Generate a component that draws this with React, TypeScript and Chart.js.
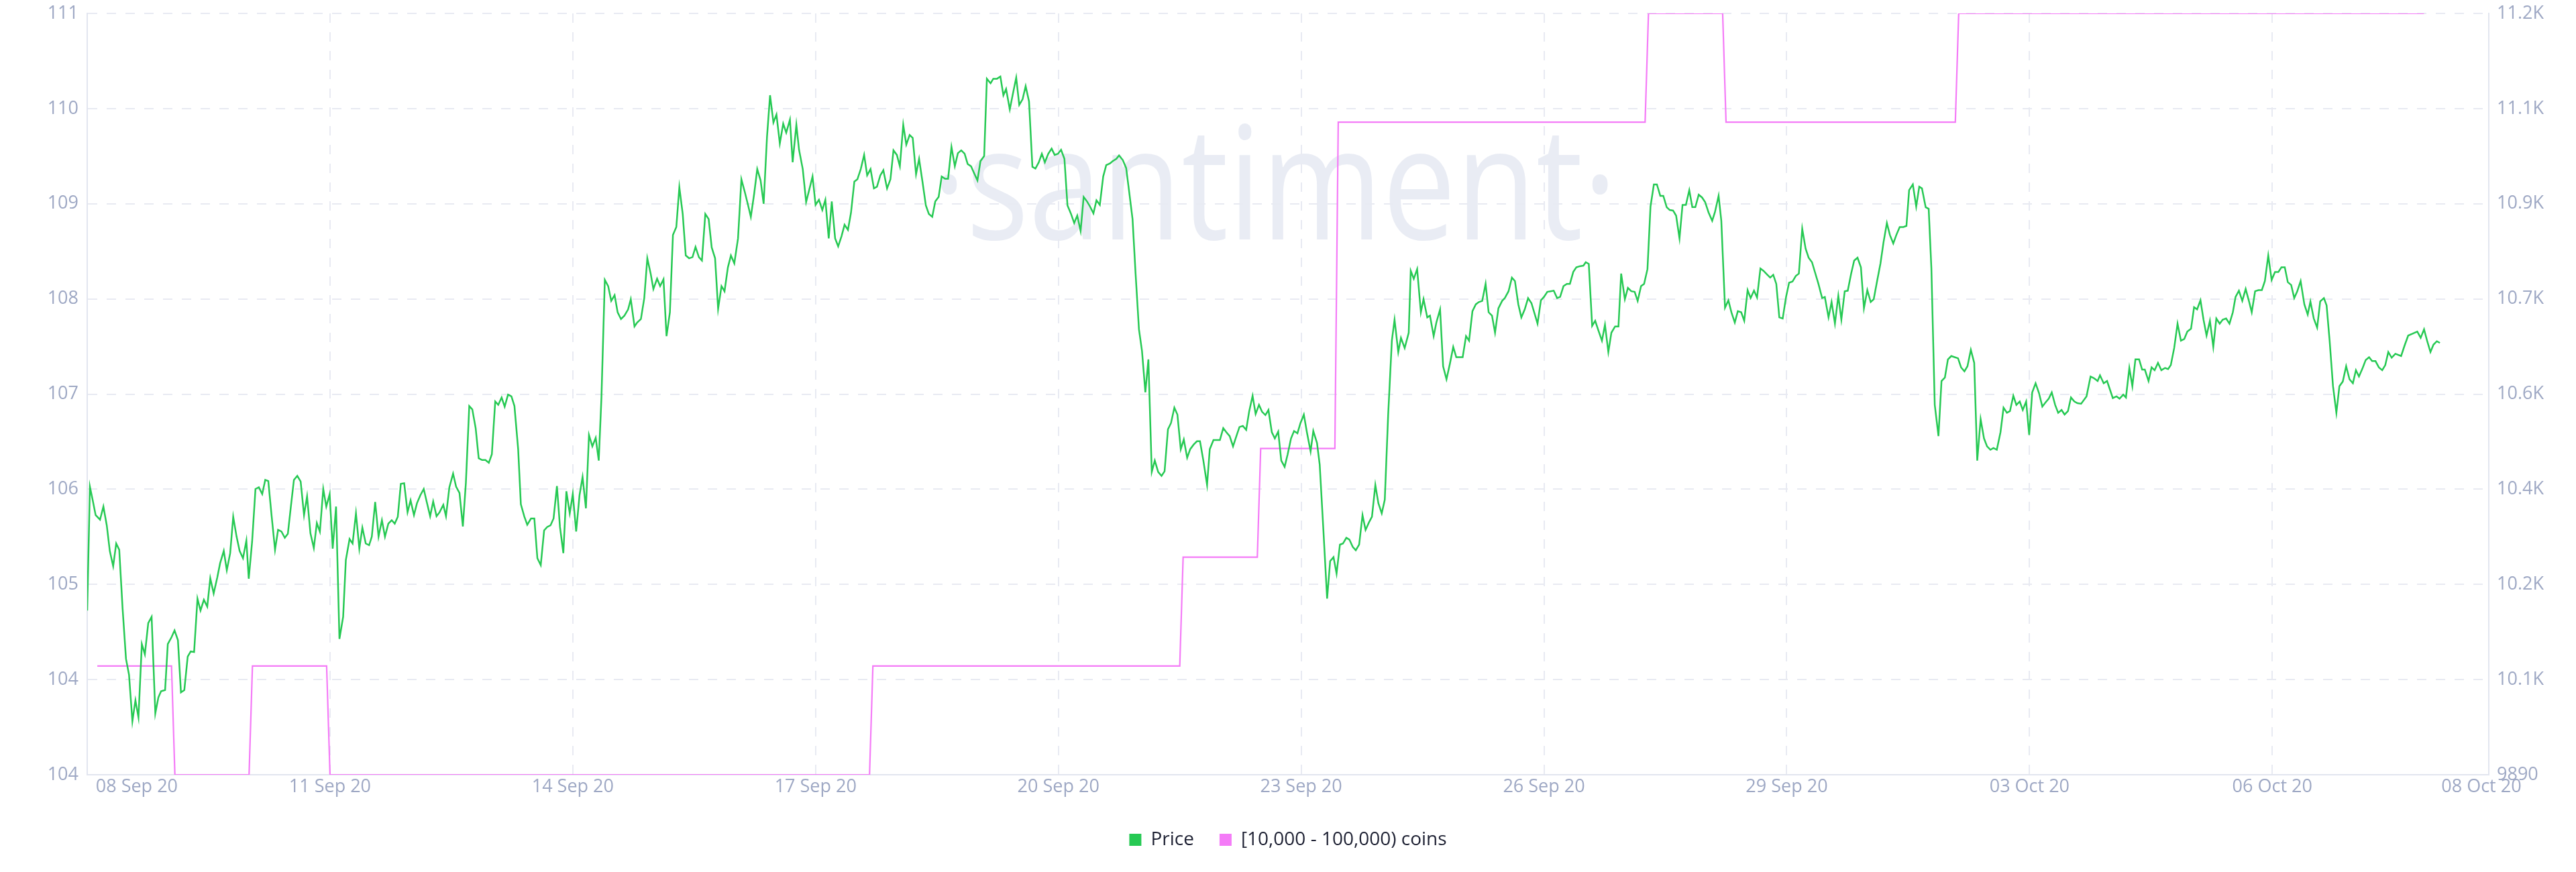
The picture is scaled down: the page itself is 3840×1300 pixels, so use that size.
import React, { useEffect, useRef } from 'react';
import { Chart, registerables } from 'chart.js';

Chart.register(...registerables);

// ---- Axis ticks ----
const xTickHours = [14.7, 72, 144, 216, 288, 360, 432, 504, 576, 648, 710];
const xTickLabels = ['08 Sep 20', '11 Sep 20', '14 Sep 20', '17 Sep 20', '20 Sep 20', '23 Sep 20', '26 Sep 20', '29 Sep 20', '03 Oct 20', '06 Oct 20', '08 Oct 20'];
const xMin = 0;
const xMax = 712.2;

const leftTickValues = [104, 104.875, 105.75, 106.625, 107.5, 108.375, 109.25, 110.125, 111];
const leftTickLabels = ['104', '104', '105', '106', '107', '108', '109', '110', '111'];

const rightTickValues = [9890, 10057.5, 10225, 10392.5, 10560, 10727.5, 10895, 11062.5, 11230];
const rightTickLabels = ['9890', '10.1K', '10.2K', '10.4K', '10.6K', '10.7K', '10.9K', '11.1K', '11.2K'];

// ---- Series: [hours since 08 Sep 20 00:00, value] ----
const priceData: [number, number][] = [
  [0,10179],[0.8,10397],[1.6,10374],[2.5,10347],[3.8,10339],[4.8,10362],[5.8,10329],[6.7,10284],[7.7,10257],[8.6,10297],[9.5,10286],[10.5,10182],[11.5,10094],[12.4,10066],[13.4,9984],[14.3,10021],[15.2,9991],[16.2,10120],[17.1,10102],[18.1,10157],[19.1,10168],[20.2,9998],[21.1,10026],[21.9,10037],[23.1,10039],[23.9,10120],[25,10132],[25.9,10144],[26.9,10127],[27.8,10035],[28.8,10039],[29.8,10098],[30.7,10107],[31.7,10106],[32.7,10200],[33.6,10179],[34.6,10198],[35.6,10186],[36.5,10236],[37.5,10209],[38.6,10238],[39.4,10262],[40.5,10284],[41.4,10250],[42.4,10280],[43.3,10344],[44.3,10309],[45.2,10284],[46.2,10271],[47.2,10302],[47.9,10235],[48.9,10300],[49.9,10393],[50.9,10396],[51.9,10384],[52.8,10409],[53.7,10407],[54.7,10345],[55.7,10286],[56.6,10321],[57.6,10318],[58.6,10307],[59.5,10314],[60.4,10362],[61.3,10409],[62.3,10416],[63.3,10406],[64.3,10347],[65.2,10380],[66.2,10315],[67.2,10289],[68.1,10333],[69,10318],[70,10393],[70.9,10362],[71.9,10384],[72.8,10288],[73.8,10362],[74.8,10129],[75.9,10168],[76.7,10268],[77.8,10305],[78.7,10297],[79.7,10350],[80.7,10288],[81.6,10325],[82.6,10297],[83.6,10294],[84.4,10309],[85.4,10370],[86.4,10309],[87.4,10338],[88.3,10309],[89.3,10332],[90.3,10338],[91.2,10332],[92.1,10344],[93,10402],[94,10403],[95,10352],[95.9,10373],[96.9,10347],[97.8,10368],[98.8,10382],[99.8,10393],[100.7,10370],[101.7,10345],[102.6,10371],[103.6,10345],[104.5,10352],[105.6,10365],[106.4,10345],[107.4,10396],[108.5,10420],[109.4,10397],[110.4,10386],[111.4,10327],[112.3,10404],[113.3,10539],[114.2,10533],[115.2,10500],[116.1,10447],[117.1,10444],[118.1,10444],[119.1,10439],[120,10454],[121,10547],[121.9,10541],[122.9,10554],[123.8,10538],[124.8,10559],[125.8,10556],[126.7,10539],[127.8,10463],[128.6,10366],[129.6,10345],[130.5,10330],[131.6,10341],[132.6,10341],[133.5,10271],[134.5,10259],[135.5,10320],[136.4,10326],[137.4,10329],[138.3,10341],[139.3,10398],[140.2,10326],[141.2,10280],[142.1,10389],[143.1,10350],[144,10384],[145,10318],[146,10382],[146.9,10414],[147.9,10359],[148.8,10488],[149.8,10468],[150.8,10483],[151.7,10443],[152.5,10554],[153.5,10761],[154.5,10750],[155.4,10724],[156.4,10734],[157.3,10704],[158.3,10692],[159.3,10698],[160.4,10709],[161.2,10727],[162.3,10679],[163.1,10686],[164.2,10692],[165.2,10729],[166.1,10799],[167.1,10772],[167.9,10745],[169,10763],[169.9,10750],[170.9,10762],[171.8,10662],[172.8,10704],[173.7,10840],[174.7,10854],[175.6,10924],[176.6,10877],[177.5,10804],[178.5,10799],[179.5,10801],[180.4,10819],[181.4,10801],[182.3,10795],[183.3,10877],[184.3,10868],[185.2,10818],[186.2,10799],[187.1,10710],[188.1,10750],[189,10741],[190,10783],[190.9,10804],[191.9,10790],
  [193,10834],[194,10938],[195,10916],[196,10892],[196.8,10872],[197.8,10913],[198.7,10956],[199.7,10936],[200.6,10895],[201.6,11013],[202.5,11086],[203.5,11038],[204.4,11052],[205.4,11001],[206.4,11036],[207.3,11020],[208.4,11043],[209.2,10968],[210.3,11034],[211.1,10990],[212.2,10956],[213.2,10898],[214.1,10919],[215.1,10943],[216,10893],[217,10902],[218,10884],[218.9,10902],[219.9,10834],[220.8,10899],[221.8,10834],[222.7,10820],[223.7,10838],[224.6,10858],[225.6,10849],[226.5,10879],[227.5,10934],[228.4,10938],[229.4,10956],[230.4,10981],[231.3,10945],[232.3,10956],[233.3,10922],[234.2,10925],[235.2,10945],[236.1,10954],[237.2,10922],[238.2,10938],[239.1,10989],[240.1,10981],[241,10961],[242,11034],[242.9,10999],[243.9,11016],[244.8,11011],[245.8,10947],[246.7,10974],[247.7,10934],[248.7,10892],[249.6,10877],[250.6,10872],[251.5,10899],[252.5,10907],[253.4,10943],[254.4,10939],[255.3,10939],[256.3,10995],[257.3,10961],[258.2,10984],[259.2,10989],[260.2,10983],[261.1,10965],[262.1,10961],[263,10949],[264,10936],[264.9,10970],[266,10979],[266.8,11115],[267.9,11107],[268.7,11115],[269.8,11115],[270.8,11119],[271.7,11086],[272.5,11097],[273.6,11061],[274.5,11088],[275.5,11117],[276.4,11069],[277.4,11079],[278.3,11102],[279.3,11075],[280.3,10960],[281.2,10957],[282.2,10968],[283.1,10983],[284,10968],[285,10983],[286,10992],[286.9,10981],[287.9,10983],[288.8,10990],[289.8,10974],[290.7,10892],[291.7,10878],[292.7,10861],[293.6,10874],[294.6,10847],[295.5,10907],[296.5,10899],[297.4,10890],[298.4,10878],[299.3,10901],[300.3,10893],[301.3,10943],[302.2,10963],[303.3,10966],[304.1,10970],[305.2,10974],[306,10980],[307.1,10972],[308.1,10958],[309,10916],[310,10868],[310.9,10772],[311.9,10674],[312.8,10636],[313.8,10563],[314.7,10621],[315.7,10423],[316.6,10443],[317.6,10423],[318.6,10416],[319.5,10424],[320.5,10498],[321.4,10509],[322.4,10536],[323.3,10524],[324.3,10463],[325.2,10480],[326.2,10448],[327.1,10463],[328.1,10471],[329.1,10477],[330,10477],[331,10443],[332.1,10400],[332.9,10463],[334,10479],[334.8,10479],[335.9,10479],[336.9,10500],[337.8,10493],[338.8,10486],[339.8,10468],[340.8,10486],[341.7,10502],[342.7,10504],[343.7,10497],[344.6,10530],[345.6,10557],[346.5,10525],[347.5,10541],[348.4,10529],[349.4,10523],[350.3,10532],[351.3,10493],[352.2,10482],[353.2,10494],[354.1,10443],[355.1,10432],[356,10454],[357,10482],[357.9,10495],[358.9,10491],[359.8,10509],[360.8,10524],[361.7,10493],[362.8,10459],[363.6,10495],[364.7,10474],[365.5,10436],[366.6,10320],[367.7,10200],[368.6,10266],[369.6,10273],[370.5,10244],[371.5,10295],[372.4,10297],[373.4,10307],[374.3,10304],[375.3,10291],[376.2,10285],[377.2,10295],[378.2,10347],[379.1,10321],[380.1,10334],[381,10344],[382,10400],[382.9,10368],[383.9,10350],[384.8,10374],[385.8,10523],[386.9,10654],[387.7,10691],[388.8,10634],[389.6,10659],[390.7,10641],
  [391.9,10668],[392.5,10777],[393.4,10763],[394.4,10780],[395.5,10704],[396.3,10727],[397.4,10695],[398.2,10698],[399.3,10662],[400.1,10686],[401.2,10709],[402.1,10609],[403.1,10586],[404.1,10613],[405.1,10643],[406,10625],[406.9,10625],[407.9,10625],[408.9,10662],[409.8,10654],[410.8,10706],[411.8,10718],[412.7,10722],[413.7,10724],[414.7,10754],[415.6,10704],[416.6,10698],[417.5,10668],[418.5,10711],[419.6,10724],[420.4,10729],[421.5,10741],[422.5,10765],[423.4,10759],[424.4,10718],[425.3,10695],[426.3,10709],[427.3,10729],[428.3,10720],[429.2,10702],[430.1,10684],[431.1,10725],[432,10731],[433,10740],[434,10741],[434.9,10742],[435.9,10729],[436.8,10731],[437.8,10750],[438.8,10754],[439.7,10754],[440.7,10775],[441.6,10783],[442.6,10785],[443.7,10786],[444.4,10792],[445.3,10789],[446.3,10680],[447.2,10689],[448.2,10671],[449.2,10654],[450.1,10682],[451.1,10634],[452,10668],[453.1,10679],[454.1,10679],[454.9,10772],[456,10727],[456.9,10747],[457.9,10741],[458.9,10740],[459.8,10724],[460.8,10750],[461.7,10754],[462.7,10780],[463.6,10890],[464.6,10929],[465.5,10929],[466.5,10909],[467.4,10909],[468.4,10889],[469.3,10884],[470.3,10883],[471.2,10874],[472.2,10834],[473.1,10893],[474.1,10893],[475.1,10919],[476,10889],[476.9,10889],[477.9,10911],[478.9,10906],[479.8,10898],[480.8,10880],[481.9,10865],[482.7,10880],[483.8,10909],[484.6,10865],[485.7,10712],[486.7,10725],[487.6,10704],[488.6,10686],[489.5,10706],[490.5,10704],[491.4,10689],[492.4,10743],[493.3,10729],[494.3,10742],[495.2,10730],[496.2,10781],[497.1,10777],[498.1,10771],[499.1,10765],[500,10770],[500.9,10754],[501.8,10695],[502.8,10693],[503.8,10731],[504.7,10756],[505.7,10758],[506.7,10768],[507.6,10772],[508.6,10851],[509.6,10816],[510.5,10800],[511.5,10792],[512.4,10774],[513.4,10754],[514.5,10729],[515.3,10731],[516.4,10695],[517.3,10722],[518.3,10684],[519.3,10733],[520.2,10691],[521.2,10741],[522.1,10742],[523.1,10772],[524,10795],[525,10800],[526,10783],[526.9,10711],[527.9,10743],[528.9,10722],[529.8,10727],[530.8,10759],[531.8,10790],[532.7,10827],[533.7,10861],[534.6,10840],[535.6,10825],[536.5,10840],[537.5,10854],[538.6,10854],[539.5,10856],[540.3,10919],[541.4,10929],[542.4,10890],[543.3,10925],[544.1,10922],[545.2,10889],[546.1,10886],[546.9,10781],[547.9,10541],[549,10486],[549.9,10583],[550.9,10589],[551.8,10621],[552.8,10627],[553.8,10625],[554.8,10623],[555.7,10607],[556.7,10600],[557.6,10609],[558.6,10638],[559.6,10615],[560.5,10443],[561.5,10516],[562.5,10482],[563.4,10468],[564.4,10462],[565.3,10465],[566.3,10462],[567.4,10493],[568.3,10536],[569.3,10527],[570.2,10530],[571.2,10557],[572.1,10541],[573.1,10547],[574,10532],[575,10547],[575.9,10488],[576.8,10563],[577.8,10579],[578.8,10562],[579.8,10538],[580.7,10545],[581.7,10552],[582.6,10563],[583.6,10541],[584.5,10527],[585.5,10532],[586.4,10524],[587.4,10530],[588.3,10554],[589.3,10547],[590.2,10544],
  [591.3,10543],[592.9,10556],[594.1,10591],[595.1,10588],[596.2,10583],[596.9,10593],[598,10579],[599,10583],[600.7,10553],[601.8,10556],[602.7,10552],[603.8,10559],[604.6,10554],[605.6,10606],[606.5,10574],[607.4,10621],[608.5,10621],[609.4,10603],[610.2,10603],[611.3,10583],[612.2,10607],[613.1,10602],[614.1,10615],[615.1,10602],[616.2,10606],[617.1,10604],[617.9,10611],[618.9,10641],[619.9,10684],[620.9,10654],[621.9,10657],[622.8,10670],[623.9,10675],[624.8,10713],[625.7,10709],[626.7,10725],[627.6,10691],[628.5,10663],[629.5,10689],[630.5,10643],[631.4,10693],[632.4,10684],[633.3,10691],[634.3,10693],[635.3,10684],[636.3,10704],[637.1,10731],[638.1,10742],[639.1,10724],[640.1,10745],[641.1,10723],[641.9,10704],[642.9,10741],[643.9,10743],[644.9,10743],[645.8,10759],[646.8,10804],[647.8,10761],[648.8,10775],[649.8,10775],[650.7,10783],[651.7,10783],[652.6,10757],[653.6,10752],[654.5,10729],[655.4,10741],[656.4,10759],[657.5,10718],[658.5,10700],[659.3,10723],[660.3,10693],[661.3,10677],[662.2,10723],[663.3,10729],[664.1,10716],[665,10654],[666,10574],[667,10527],[667.9,10574],[668.9,10582],[669.9,10609],[670.9,10586],[671.9,10579],[672.8,10602],[673.7,10591],[674.8,10606],[675.7,10620],[676.7,10625],[677.6,10618],[678.6,10618],[679.6,10607],[680.6,10602],[681.5,10611],[682.4,10634],[683.4,10624],[684.5,10631],[686.2,10627],[687.2,10645],[688.3,10663],[689.5,10666],[691,10670],[692,10659],[693,10674],[693.9,10654],[694.9,10634],[695.8,10647],[696.8,10653],[697.7,10650]
];

const holdersData: [number, number][] = [
  [3,105],[25,105],[26,104],[48,104],[49,105],[71,105],[72,104],[232,104],[233,105],[324,105],[325,106],[347,106],[348,107],[370,107],[371,110],[462,110],[463,111],[485,111],[486,110],[554,110],[555,111],[693,111]
];

const seriesNames = ['Price', '[10,000 - 100,000) coins'];
const seriesColors = ['#26C953', '#F47BF7'];

const FONT = '"Open Sans", "Noto Sans", sans-serif';
const tickColor = '#9ea8c4';
const gridColor = '#e8eaf2';
const borderColor = '#e2e5ef';

const watermarkPlugin = {
  id: 'santimentWatermark',
  beforeDraw(chart: any) {
    const { ctx, chartArea } = chart;
    ctx.save();
    ctx.font = `235px ${FONT}`;
    ctx.fillStyle = '#e9ecf4';
    ctx.textAlign = 'center';
    ctx.textBaseline = 'alphabetic';
    ctx.translate(chartArea.left + chartArea.width * 0.4944, chartArea.top + 337);
    ctx.scale(0.83, 1);
    ctx.fillText('·santiment·', 0, 0);
    ctx.restore();
  },
};

export default function App() {
  const canvasRef = useRef<HTMLCanvasElement | null>(null);

  useEffect(() => {
    if (!canvasRef.current) return;
    const chart = new Chart(canvasRef.current, {
      type: 'line',
      data: {
        datasets: [
          {
            label: seriesNames[0],
            data: priceData as any,
            borderColor: seriesColors[0],
            backgroundColor: seriesColors[0],
            borderWidth: 2.5,
            pointRadius: 0,
            tension: 0,
            yAxisID: 'yRight',
          },
          {
            label: seriesNames[1],
            data: holdersData as any,
            borderColor: seriesColors[1],
            backgroundColor: seriesColors[1],
            borderWidth: 2.2,
            pointRadius: 0,
            tension: 0,
            yAxisID: 'yLeft',
          },
        ],
      },
      options: {
        responsive: false,
        animation: false,
        devicePixelRatio: 1,
        layout: { padding: { top: 20, bottom: 24, left: 0, right: 0 } },
        plugins: {
          tooltip: { enabled: false },
          legend: {
            display: true,
            position: 'bottom',
            labels: {
              boxWidth: 18,
              boxHeight: 18,
              padding: 38,
              color: '#1e2133',
              font: { family: FONT, size: 28 },
              generateLabels: (c: any) =>
                Chart.defaults.plugins.legend.labels.generateLabels(c).map((l: any) => ({
                  ...l,
                  lineWidth: 0,
                  fillStyle: l.strokeStyle,
                })),
            },
          },
        },
        scales: {
          x: {
            type: 'linear',
            min: xMin,
            max: xMax,
            afterBuildTicks: (scale: any) => {
              scale.ticks = xTickHours.map((v) => ({ value: v }));
            },
            afterFit: (scale: any) => {
              scale.height = 45;
            },
            ticks: {
              autoSkip: false,
              maxRotation: 0,
              minRotation: 0,
              padding: 2,
              color: tickColor,
              font: { family: FONT, size: 27 },
              callback: (_v: any, i: number) => xTickLabels[i],
            },
            grid: {
              drawTicks: false,
              lineWidth: 2,
              color: (ctx: any) =>
                ctx.index === 0 || ctx.index === xTickHours.length - 1 ? 'rgba(0,0,0,0)' : gridColor,
            },
            border: { display: true, color: borderColor, width: 2, dash: [14, 14] },
          },
          yLeft: {
            type: 'linear',
            position: 'left',
            min: leftTickValues[0],
            max: leftTickValues[leftTickValues.length - 1],
            afterBuildTicks: (scale: any) => {
              scale.ticks = leftTickValues.map((v) => ({ value: v }));
            },
            afterFit: (scale: any) => {
              scale.width = 130;
            },
            ticks: {
              padding: 13,
              color: tickColor,
              font: { family: FONT, size: 27, lineHeight: 0.5 },
              callback: (_v: any, i: number) => leftTickLabels[i],
            },
            grid: { drawTicks: false, lineWidth: 2, color: gridColor },
            border: { display: true, color: borderColor, width: 2, dash: [14, 14] },
          },
          yRight: {
            type: 'linear',
            position: 'right',
            min: rightTickValues[0],
            max: rightTickValues[rightTickValues.length - 1],
            afterBuildTicks: (scale: any) => {
              scale.ticks = rightTickValues.map((v) => ({ value: v }));
            },
            afterFit: (scale: any) => {
              scale.width = 130;
            },
            ticks: {
              padding: 12,
              color: tickColor,
              font: { family: FONT, size: 27, lineHeight: 0.5 },
              callback: (_v: any, i: number) => rightTickLabels[i],
            },
            grid: { drawTicks: false, drawOnChartArea: false },
            border: { display: true, color: borderColor, width: 2 },
          },
        },
      },
      plugins: [watermarkPlugin],
    } as any);
    return () => chart.destroy();
  }, []);

  return (
    <div style={{ position: 'fixed', left: 0, top: 0, width: 3840, height: 1300, background: '#ffffff' }}>
      <canvas ref={canvasRef} width={3840} height={1300} style={{ display: 'block' }} />
    </div>
  );
}
